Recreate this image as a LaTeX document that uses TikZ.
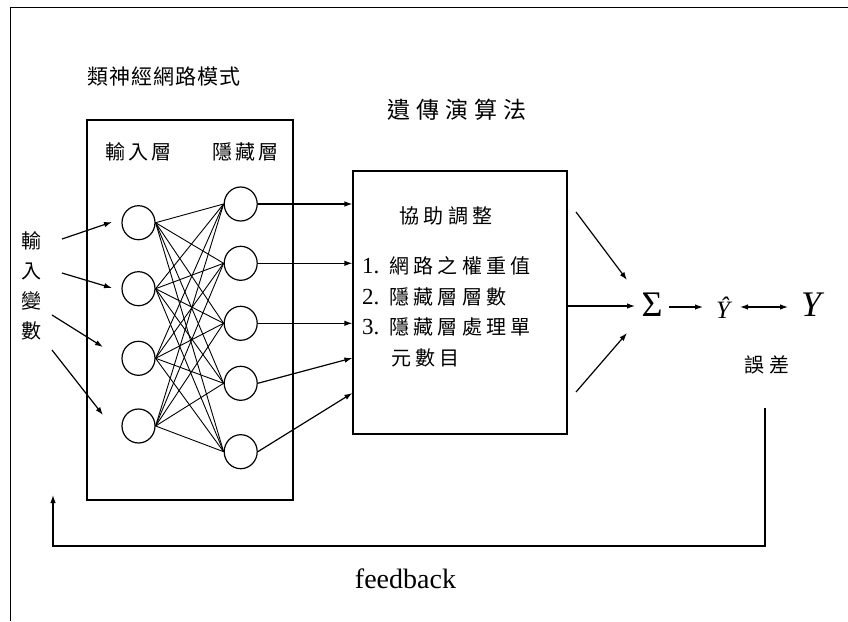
\documentclass[tikz,border=0pt]{standalone}
\usepackage{fontspec}
\setmainfont{Liberation Serif}
\newfontfamily\cjk{Noto Sans CJK TC}
\usetikzlibrary{arrows.meta,shapes.geometric,calc}

% set a run of characters with a fixed gap between them
\def\spcend{}
\newcommand\spaced[2]{\def\spcgap{#1}\spcloop#2\spcend}
\def\spcloop#1{\ifx#1\spcend\unskip\else#1\hskip\spcgap\relax\expandafter\spcloop\fi}

\tikzset{
  ln/.style={line width=1.2pt},
  thin link/.style={line width=0.9pt},
  arr/.style={ln,-{Latex[length=8pt,width=5.5pt]}},
  darr/.style={ln,{Latex[length=8pt,width=5.5pt]}-{Latex[length=8pt,width=5.5pt]}},
  neuron/.style={ellipse,draw,ln,minimum width=33pt,minimum height=34pt,inner sep=0pt},
  boxed/.style={draw,ln,inner sep=0pt},
  zh/.style={font=\cjk\fontsize{20}{30}\selectfont,inner sep=0pt},
  num/.style={font=\fontsize{23}{26}\selectfont,inner sep=0pt},
}

\begin{document}
\begin{tikzpicture}[x=1pt,y=-1pt]
\useasboundingbox (0,0) rectangle (848,621);

% outer frame
\draw[line width=1.8pt] (848,7.5) -- (10.5,7.5) -- (10.5,621);

% titles
\node[zh,anchor=west,font=\cjk\fontsize{21}{24}\selectfont] (nntitle) at (87,77) {\spaced{1pt}{類神經網路模式}};
\node[inner sep=0pt,anchor=west,font=\cjk\fontsize{23}{26}\selectfont] (gatitle) at (387,110) {\spaced{6pt}{遺傳演算法}};

% neural network box
\node[boxed,minimum width=206pt,minimum height=380pt] (nn) at (190,310) {};
\node[zh,anchor=west] (inlabel) at (105,152) {\spaced{3pt}{輸入層}};
\node[zh,anchor=west] (hidlabel) at (212,152) {\spaced{3pt}{隱藏層}};

\foreach \i/\y in {1/222.7,2/288.7,3/358.3,4/426}
  \node[neuron] (i\i) at (138.5,\y) {};
\foreach \j/\y in {1/204,2/263.3,3/323.3,4/383.3,5/451.7}
  \node[neuron] (h\j) at (240.7,\y) {};
\foreach \i in {1,...,4}
  \foreach \j in {1,...,5}
    \draw[thin link] (i\i.east) -- (h\j.west);

% input variables
\node[zh,align=center] (invars) at (31,286) {輸\\入\\變\\數};
\coordinate (a1s) at (62,239);  \coordinate (a1e) at (112,222);
\coordinate (a2s) at (62,273);  \coordinate (a2e) at (112,288);
\coordinate (a3s) at (52,315);  \coordinate (a3e) at (103,347);
\coordinate (a4s) at (52,350);  \coordinate (a4e) at (103,415);
\foreach \k in {1,...,4}
  \draw[arr] (a\k s) -- (a\k e);

% genetic algorithm box
\node[boxed,minimum width=214pt,minimum height=263pt] (ga) at (460,302.5) {};
\node[zh,anchor=west] (adj) at (399,216) {\spaced{4.5pt}{協助調整}};
\node[num,anchor=west] (n1) at (362,266) {1.};
\node[zh,anchor=west] (t1) at (389,266) {\spaced{4.3pt}{網路之權重值}};
\node[num,anchor=west] (n2) at (362,297) {2.};
\node[zh,anchor=west] (t2) at (389,297) {\spaced{4.3pt}{隱藏層層數}};
\node[num,anchor=west] (n3) at (362,327) {3.};
\node[zh,anchor=west] (t3) at (389,327) {\spaced{4.3pt}{隱藏層處理單}};
\node[zh,anchor=west] (t4) at (391,358) {\spaced{4.3pt}{元數目}};

% hidden layer outputs into the GA box
\draw[arr] (h1.east) -- (h1.east -| ga.west);
\draw[arr] (h2.east) -- (h2.east -| ga.west);
\draw[arr] (h3.east) -- (h3.east -| ga.west);
\draw[arr] (h4.east) -- ($(ga.west)+(0,55.5)$);
\draw[arr] (h5.east) -- ($(ga.west)+(0,90.5)$);

% summation and output
\node[inner sep=0pt,anchor=base,font=\fontsize{36}{40}\selectfont] (sig) at (652,316) {Σ};
\node[inner sep=0pt,anchor=base,font=\itshape\fontsize{25}{28}\selectfont] (yhat) at (723,318) {\^{Y}};
\node[inner sep=0pt,anchor=base,font=\itshape\fontsize{36}{40}\selectfont] (yobs) at (811,316) {Y};
\node[zh,anchor=west] (err) at (744,365) {\spaced{5pt}{誤差}};

\coordinate (s1s) at (576,212); \coordinate (s1e) at (627,280);
\coordinate (s2s) at (567,306); \coordinate (s2e) at (635,306);
\coordinate (s3s) at (576,392); \coordinate (s3e) at (627,333);
\draw[arr] (s1s) -- (s1e);
\draw[arr] (s2s) -- (s2e);
\draw[arr] (s3s) -- (s3e);

\coordinate (o1s) at (669,307); \coordinate (o1e) at (703,307);
\draw[arr] (o1s) -- (o1e);
\coordinate (d1s) at (740,307); \coordinate (d1e) at (788,307);
\draw[darr] (d1s) -- (d1e);

% feedback loop
\coordinate (fbs) at (765,408);
\coordinate (fbc) at (53,546);
\coordinate (fbe) at (53,495);
\draw[arr] (fbs) |- (fbc) -- (fbe);
\node[inner sep=0pt,anchor=base,font=\fontsize{28}{32}\selectfont] (fb) at (405.5,588) {feedback};
\end{tikzpicture}
\end{document}
